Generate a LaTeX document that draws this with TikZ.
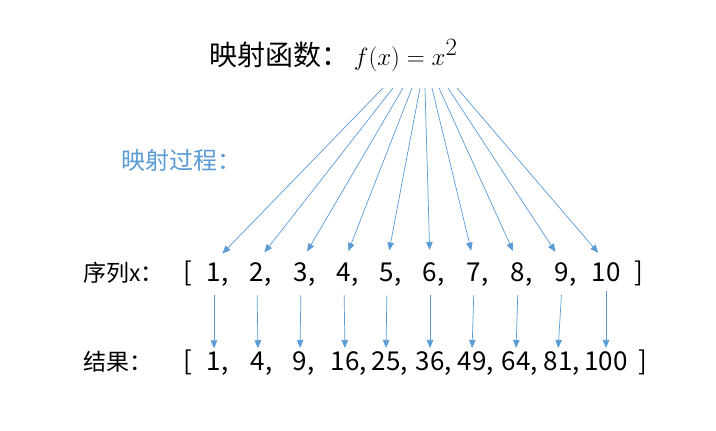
\documentclass[tikz,border=0pt]{standalone}
\usepackage{fontspec}
\setmainfont{Noto Sans CJK SC}
\usetikzlibrary{positioning,arrows.meta}
\definecolor{mapblue}{RGB}{91,155,213}
\tikzset{
  maparrow/.style={draw=mapblue, line width=0.7pt,
    -{Triangle[length=8pt,width=6.5pt]}},
  rowtext/.style={font=\fontsize{26}{30}\selectfont, inner sep=0pt},
  labeltext/.style={font=\fontsize{23}{27}\selectfont, inner sep=0pt},
  titletext/.style={font=\fontsize{28}{32}\selectfont, inner sep=0pt},
  steptext/.style={font=\fontsize{24}{28}\selectfont, text=mapblue, inner sep=0pt}
}

\begin{document}
\begin{tikzpicture}[x=1pt,y=-1pt]
  \useasboundingbox (0,0) rectangle (716,431);
  % title and the blue label
  \node[titletext, anchor=base west] (title) at (209,65)
    {映射函数：\,{\fontsize{33}{38}\selectfont$f(x)=x^2$}};
  \node[steptext, anchor=west] (step) at (121,160) {映射过程：};
  % row labels and brackets
  \node[labeltext, anchor=base west] (seqlabel) at (83,281) {序列x：};
  \node[labeltext, anchor=base west] (reslabel) at (83,370) {结果：};
  \node[rowtext, anchor=base] (seqopen) at (188,281) {[};
  \node[rowtext, anchor=base] (seqclose) at (639,281) {]};
  \node[rowtext, anchor=base] (resopen) at (188,370) {[};
  \node[rowtext, anchor=base] (resclose) at (643,370) {]};
  % sequence x
  \foreach \i/\x/\t in {1/214/1,2/257/2,3/301/3,4/344/4,5/387/5,
                        6/430/6,7/474/7,8/518/8,9/562/9}
    \node[rowtext, anchor=base] (s\i) at (\x,281) {\t\rlap{,}};
  \node[rowtext, anchor=base] (s10) at (606,281) {10};
  % results
  \foreach \i/\x/\t in {1/214/1,2/258/4,3/300/9,4/345/16,5/386/25,
                        6/430/36,7/472/49,8/516/64,9/558/81}
    \node[rowtext, anchor=base] (r\i) at (\x,370) {\t\rlap{,}};
  \node[rowtext, anchor=base] (r10) at (606,370) {100};
  % arrows from the function
  \foreach \i/\x in {1/383,2/393,3/403,4/412,5/420,6/425,7/432,8/439,9/448,10/457}
    \coordinate (t\i) at (\x,88);
  \foreach \i in {1,...,10}
    \draw[maparrow, shorten >=12pt] (t\i) -- (s\i.north);
  % arrows to the results
  \foreach \i in {1,...,10}
    \draw[maparrow, shorten <=9pt, shorten >=3pt] (s\i.south) -- (r\i.north);
\end{tikzpicture}
\end{document}
